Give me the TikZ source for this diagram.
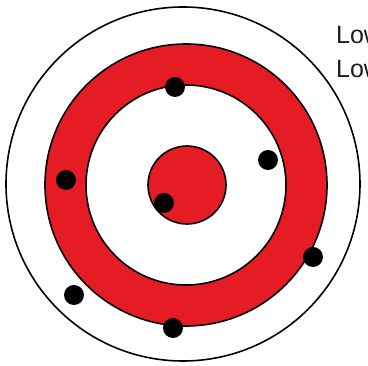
\documentclass[tikz,border=0pt]{standalone}
\usepackage{fontspec}
\setmainfont{Liberation Sans}
\definecolor{tred}{RGB}{230,28,36}
\definecolor{ttext}{RGB}{30,30,30}
\begin{document}
\begin{tikzpicture}[x=1pt,y=-1pt,
  ring/.style={draw=black,line width=1.6pt},
  hit/.style={circle,fill=black,inner sep=0pt,minimum size=20pt},
  lbl/.style={anchor=base west,inner sep=0pt,text=ttext,font=\fontsize{25}{30}\selectfont}]
\useasboundingbox (0,0) rectangle (368,366);
\fill[white] (0,0) rectangle (368,366);
\draw[ring,fill=white] (183,184) circle[radius=177];
\draw[ring,fill=tred] (186,185) circle[radius=141];
\draw[ring,fill=white] (186,185) circle[radius=100];
\draw[ring,fill=tred] (187,185) circle[radius=39];
\node[hit] (d1) at (175,87) {};
\node[hit] (d2) at (268,160) {};
\node[hit] (d3) at (66,180) {};
\node[hit] (d4) at (164,203) {};
\node[hit] (d5) at (313,257) {};
\node[hit] (d6) at (74,295) {};
\node[hit] (d7) at (173,328) {};
\node[lbl] (t1) at (336,44) {Low};
\node[lbl] (t2) at (336,78) {Low};
\end{tikzpicture}
\end{document}
